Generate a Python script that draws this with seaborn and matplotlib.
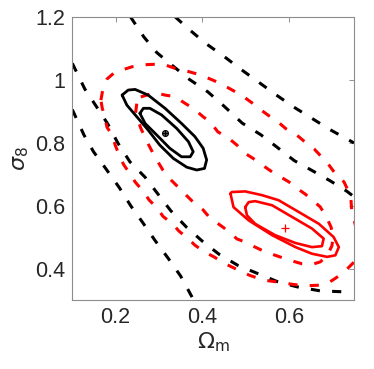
import matplotlib
matplotlib.use("Agg")
import matplotlib.pyplot as plt
import numpy as np
import seaborn as sns

# black dashed degeneracy bands (open curves)
band_a_x = [0.337, 0.370, 0.408, 0.449, 0.489, 0.529, 0.570, 0.611, 0.653, 0.695, 0.75]
band_a_y = [1.2, 1.159, 1.115, 1.075, 1.033, 0.993, 0.952, 0.913, 0.877, 0.841, 0.799]

band_b_x = [0.234, 0.265, 0.295, 0.330, 0.370, 0.413, 0.450, 0.492, 0.535, 0.572, 0.612, 0.655, 0.697, 0.734, 0.75]
band_b_y = [1.2, 1.136, 1.086, 1.046, 1.001, 0.961, 0.916, 0.862, 0.825, 0.786, 0.743, 0.710, 0.677, 0.645, 0.628]

band_c_x = [0.1, 0.129, 0.155, 0.182, 0.205, 0.233, 0.268, 0.298, 0.327, 0.363, 0.400, 0.439, 0.482, 0.528, 0.574, 0.618, 0.672, 0.745]
band_c_y = [1.052, 0.970, 0.916, 0.859, 0.799, 0.739, 0.690, 0.636, 0.584, 0.532, 0.487, 0.445, 0.410, 0.384, 0.358, 0.342, 0.329, 0.325]

band_d_x = [0.1, 0.127, 0.149, 0.178, 0.209, 0.235, 0.263, 0.292, 0.321, 0.350, 0.380]
band_d_y = [0.905, 0.824, 0.771, 0.716, 0.656, 0.599, 0.545, 0.487, 0.433, 0.376, 0.300]

# red dashed contours (closed)
red_dash_outer_x = [0.166, 0.171, 0.180, 0.196, 0.215, 0.238, 0.261, 0.291, 0.314, 0.337, 0.360, 0.383,
                    0.406, 0.427, 0.452, 0.473, 0.496, 0.515, 0.535, 0.554, 0.577, 0.593, 0.618, 0.637,
                    0.658, 0.671, 0.685, 0.704, 0.727, 0.738, 0.743, 0.745, 0.755, 0.760, 0.755, 0.741,
                    0.726, 0.706, 0.688, 0.669, 0.637, 0.607, 0.575, 0.542, 0.510, 0.492, 0.468, 0.450,
                    0.427, 0.406, 0.383, 0.369, 0.346, 0.332, 0.309, 0.298, 0.277, 0.265, 0.245, 0.235,
                    0.219, 0.210, 0.199, 0.192, 0.180, 0.175, 0.169]
red_dash_outer_y = [0.935, 0.973, 1.002, 1.021, 1.031, 1.041, 1.047, 1.049, 1.047, 1.036, 1.029, 1.020,
                    1.009, 0.997, 0.980, 0.964, 0.945, 0.926, 0.904, 0.885, 0.863, 0.844, 0.824, 0.802,
                    0.780, 0.761, 0.742, 0.707, 0.675, 0.643, 0.618, 0.580, 0.529, 0.475, 0.427, 0.408,
                    0.387, 0.368, 0.352, 0.347, 0.345, 0.350, 0.357, 0.363, 0.378, 0.389, 0.405, 0.417,
                    0.437, 0.452, 0.474, 0.493, 0.519, 0.541, 0.566, 0.589, 0.618, 0.643, 0.675, 0.697,
                    0.729, 0.754, 0.792, 0.824, 0.849, 0.881, 0.910]

red_dash_inner_x = [0.258, 0.272, 0.291, 0.314, 0.337, 0.360, 0.379, 0.402, 0.418, 0.436, 0.457, 0.480,
                    0.494, 0.517, 0.535, 0.561, 0.577, 0.600, 0.614, 0.637, 0.653, 0.672, 0.685, 0.697,
                    0.702, 0.699, 0.688, 0.672, 0.653, 0.630, 0.600, 0.579, 0.545, 0.522, 0.499, 0.480,
                    0.457, 0.438, 0.418, 0.402, 0.379, 0.365, 0.344, 0.328, 0.309, 0.298, 0.286, 0.275,
                    0.258, 0.246, 0.249]
red_dash_inner_y = [0.945, 0.951, 0.959, 0.951, 0.946, 0.925, 0.909, 0.882, 0.866, 0.834, 0.818, 0.792,
                    0.770, 0.750, 0.732, 0.707, 0.694, 0.675, 0.659, 0.637, 0.618, 0.596, 0.567, 0.532,
                    0.501, 0.472, 0.440, 0.421, 0.413, 0.415, 0.427, 0.437, 0.453, 0.468, 0.484, 0.494,
                    0.522, 0.541, 0.560, 0.586, 0.611, 0.630, 0.659, 0.681, 0.713, 0.738, 0.767, 0.796,
                    0.846, 0.894, 0.926]

# red solid contours (closed)
red_outer_x = [0.465, 0.468, 0.499, 0.538, 0.576, 0.622, 0.669, 0.703, 0.715, 0.707, 0.688, 0.653,
               0.615, 0.561, 0.507, 0.472]
red_outer_y = [0.638, 0.643, 0.645, 0.633, 0.617, 0.580, 0.542, 0.500, 0.468, 0.442, 0.437, 0.447,
               0.468, 0.506, 0.553, 0.595]

red_inner_x = [0.499, 0.507, 0.522, 0.561, 0.607, 0.653, 0.680, 0.676, 0.653, 0.615, 0.568, 0.522, 0.503]
red_inner_y = [0.595, 0.611, 0.614, 0.601, 0.564, 0.527, 0.495, 0.471, 0.468, 0.481, 0.506, 0.542, 0.569]

# black solid contours (closed)
black_outer_x = [0.215, 0.229, 0.245, 0.275, 0.314, 0.352, 0.383, 0.402, 0.410, 0.405, 0.387, 0.364,
                 0.333, 0.302, 0.275, 0.249, 0.226]
black_outer_y = [0.951, 0.967, 0.969, 0.951, 0.909, 0.861, 0.819, 0.782, 0.745, 0.718, 0.713, 0.722,
                 0.750, 0.792, 0.840, 0.882, 0.919]

black_inner_x = [0.256, 0.264, 0.279, 0.306, 0.341, 0.368, 0.379, 0.372, 0.352, 0.325, 0.295, 0.268]
black_inner_y = [0.893, 0.909, 0.909, 0.888, 0.845, 0.803, 0.771, 0.755, 0.755, 0.782, 0.824, 0.861]

# best-fit points
black_best = (0.315, 0.831)
red_best = (0.591, 0.528)

x_ticks = [0.2, 0.4, 0.6]
y_ticks = [0.4, 0.6, 0.8, 1.0, 1.2]
y_tick_labels = ["0.4", "0.6", "0.8", "1", "1.2"]


def closed(xs, ys):
    return np.append(xs, xs[0]), np.append(ys, ys[0])


sns.set_style("white")
plt.rcParams["font.family"] = ["Liberation Sans", "DejaVu Sans"]
plt.rcParams["mathtext.fontset"] = "dejavusans"

fig = plt.figure(figsize=(3.74, 3.69), dpi=100)
ax = fig.add_axes([0.1933, 0.187, 0.7532, 0.7677])

dash = (0, (3, 4))
for bx, by in [(band_a_x, band_a_y), (band_b_x, band_b_y), (band_c_x, band_c_y), (band_d_x, band_d_y)]:
    sns.lineplot(x=bx, y=by, sort=False, estimator=None, color="black", lw=2.2, linestyle=dash, ax=ax)

for rx, ry in [(red_dash_outer_x, red_dash_outer_y), (red_dash_inner_x, red_dash_inner_y)]:
    cx, cy = closed(rx, ry)
    sns.lineplot(x=cx, y=cy, sort=False, estimator=None, color="#ff0000", lw=2.2, linestyle=dash, ax=ax)

for rx, ry in [(red_outer_x, red_outer_y), (red_inner_x, red_inner_y)]:
    cx, cy = closed(rx, ry)
    sns.lineplot(x=cx, y=cy, sort=False, estimator=None, color="#ff0000", lw=1.9, ax=ax)

for kx, ky in [(black_outer_x, black_outer_y), (black_inner_x, black_inner_y)]:
    cx, cy = closed(kx, ky)
    sns.lineplot(x=cx, y=cy, sort=False, estimator=None, color="black", lw=2.0, ax=ax)

sns.scatterplot(x=[black_best[0]], y=[black_best[1]], marker="o", s=18, facecolor="#666666",
                edgecolor="black", linewidth=0.8, ax=ax, zorder=5)
sns.scatterplot(x=[black_best[0]], y=[black_best[1]], marker="+", s=14, color="black",
                linewidth=0.8, ax=ax, zorder=6)
sns.scatterplot(x=[red_best[0]], y=[red_best[1]], marker="+", s=40, color="#ff0000",
                linewidth=0.9, ax=ax, zorder=6)

ax.set_xlim(0.1, 0.75)
ax.set_ylim(0.3, 1.2)
ax.set_xticks(x_ticks)
ax.set_xticklabels([f"{t:.1f}" for t in x_ticks])
ax.set_yticks(y_ticks)
ax.set_yticklabels(y_tick_labels)
ax.tick_params(direction="in", length=3.5, width=0.6, color="#808080", labelsize=15.5,
               labelcolor="#262626", top=True, right=True, pad=5)
for spine in ax.spines.values():
    spine.set_color("#8c8c8c")
    spine.set_linewidth(0.8)

ax.set_xlabel(r"$\Omega_{\rm m}$", fontsize=16, color="#262626", labelpad=2)
ax.set_ylabel(r"$\sigma_8$", fontsize=16, color="#262626", labelpad=3)

fig.savefig("out.png", dpi=100)
